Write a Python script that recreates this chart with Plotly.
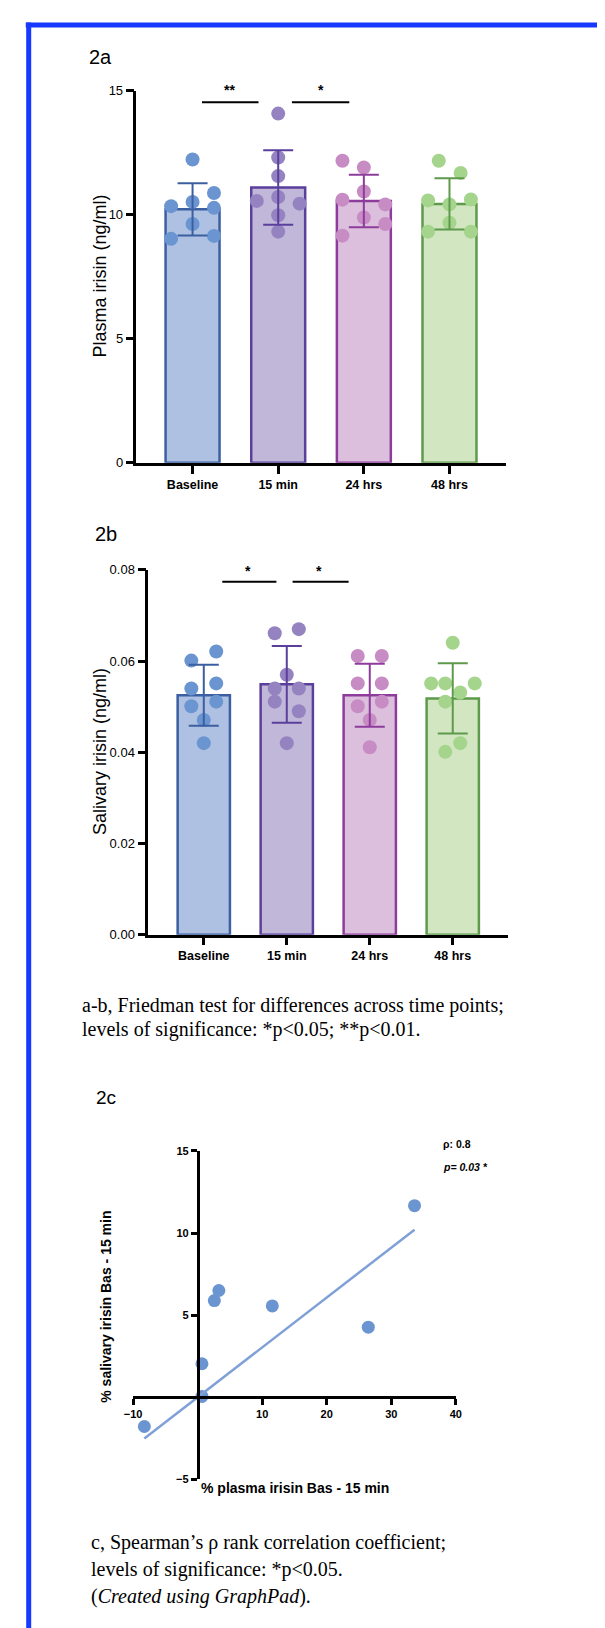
import plotly.graph_objects as go
import numpy as np

# ---------------- data ----------------
categories = ["Baseline", "15 min", "24 hrs", "48 hrs"]

plasma_mean = [10.22, 11.10, 10.56, 10.44]
plasma_sd = [1.05, 1.50, 1.06, 1.03]
plasma_points = [
    [12.23, 10.35, 10.52, 10.88, 10.28, 9.63, 9.03, 9.15],
    [14.08, 12.31, 11.56, 10.72, 10.56, 10.45, 9.98, 9.32],
    [12.18, 11.91, 10.94, 10.61, 10.42, 9.89, 9.63, 9.16],
    [12.18, 11.69, 10.58, 10.62, 10.42, 9.68, 9.32, 9.32],
]
plasma_jitter = [
    [0, -0.25, 0, 0.25, 0.25, 0, -0.25, 0.25],
    [0, 0, 0, 0, -0.25, 0.25, 0, 0],
    [-0.25, 0, 0, -0.25, 0.25, 0, 0.25, -0.25],
    [-0.125, 0.13, -0.25, 0.25, 0, 0, -0.25, 0.25],
]

saliva_mean = [0.0525, 0.0549, 0.0525, 0.0518]
saliva_sd = [0.0067, 0.0084, 0.0069, 0.0077]
saliva_points = [
    [0.0621, 0.0601, 0.0540, 0.0551, 0.0511, 0.0501, 0.0471, 0.0420],
    [0.0661, 0.0670, 0.0570, 0.0540, 0.0540, 0.0511, 0.0490, 0.0420],
    [0.0611, 0.0611, 0.0551, 0.0551, 0.0511, 0.0501, 0.0471, 0.0411],
    [0.0640, 0.0551, 0.0551, 0.0551, 0.0531, 0.0511, 0.0420, 0.0401],
]
saliva_jitter = [
    [0.15, -0.15, -0.15, 0.15, 0.15, -0.15, 0, 0],
    [-0.145, 0.145, 0, -0.145, 0.145, -0.145, 0.145, 0],
    [-0.145, 0.145, -0.145, 0.145, 0.145, -0.145, 0, 0],
    [0, -0.26, -0.09, 0.265, 0.09, -0.09, 0.09, -0.09],
]

corr_x = [33.6, 3.29, 2.59, 11.57, 26.44, 0.67, 0.67, -8.25]   # % plasma irisin Bas - 15 min
corr_y = [11.67, 6.50, 5.89, 5.56, 4.27, 2.04, 0.05, -1.78]     # % salivary irisin Bas - 15 min

plasma_ticks = [0, 5, 10, 15]
saliva_ticks = [0.00, 0.02, 0.04, 0.06, 0.08]
saliva_ticktext = ["0.00", "0.02", "0.04", "0.06", "0.08"]
corr_xticks = [-10, 10, 20, 30, 40]
corr_yticks = [-5, 5, 10, 15]

# ---------------- style ----------------
W, H = 605, 1628
fill_c = ["#afc1e2", "#c0b7d9", "#dbbfdc", "#d2e6c1"]
edge_c = ["#3b5fa0", "#5a3f9c", "#8e3c9c", "#5d9a4b"]
dot_c = ["#6b95d0", "#9483c0", "#c78cc4", "#a5d48d"]
SANS = "Liberation Sans, Arial, sans-serif"
SERIF = "Liberation Serif, Times New Roman, serif"


def px(x):
    return x / W


def py(y):
    return 1 - y / H


fig = go.Figure()


def add_bar_panel(means, sds, points, jitter, xa, ya):
    for i in range(len(categories)):
        fig.add_trace(go.Bar(
            x=[i], y=[means[i]], width=0.63,
            marker=dict(color=fill_c[i], line=dict(color=edge_c[i], width=2.5)),
            xaxis=xa, yaxis=ya, showlegend=False, hoverinfo="skip"))
    for i in range(len(categories)):
        xs = [i + j for j in jitter[i]]
        fig.add_trace(go.Scatter(
            x=xs, y=points[i], mode="markers",
            marker=dict(color=dot_c[i], size=14, line=dict(width=0)),
            xaxis=xa, yaxis=ya, showlegend=False, cliponaxis=False))
    for i in range(len(categories)):
        fig.add_trace(go.Scatter(
            x=[i], y=[means[i]], mode="markers",
            marker=dict(color="rgba(0,0,0,0)", size=1),
            error_y=dict(type="data", array=[sds[i]], color=edge_c[i],
                         thickness=2, width=15),
            xaxis=xa, yaxis=ya, showlegend=False, cliponaxis=False))


add_bar_panel(plasma_mean, plasma_sd, plasma_points, plasma_jitter, "x", "y")
add_bar_panel(saliva_mean, saliva_sd, saliva_points, saliva_jitter, "x2", "y2")

# correlation panel
fig.add_trace(go.Scatter(
    x=corr_x, y=corr_y, mode="markers",
    marker=dict(color="#6b95d0", size=13),
    xaxis="x3", yaxis="y3", showlegend=False, cliponaxis=False))
cx = np.array(corr_x)
cy = np.array(corr_y)
slope = float(np.sum(cx * cy) / np.sum(cx * cx))
lx = [float(cx.min()), float(cx.max())]
fig.add_trace(go.Scatter(
    x=lx, y=[slope * v for v in lx], mode="lines",
    line=dict(color="#80a1d8", width=2.5),
    xaxis="x3", yaxis="y3", showlegend=False, cliponaxis=False))

axis_common = dict(showgrid=False, zeroline=False, showline=True,
                   linecolor="black", linewidth=2.5, ticks="outside",
                   tickcolor="black", tickwidth=2.5, ticklen=8)

d2a_x = [px(122.5), px(501)]
d2a_y = [py(452), py(76.5)]
d2b_x = [px(134.6), px(503)]
d2b_y = [py(928.3), py(560)]
d2c_x = [px(119), px(450)]
d2c_y = [py(1478), py(1146.5)]

xr1 = [-0.655, 3.655]
xr2 = [-0.669, 3.66]
xr3 = [-10, 40]
yr3 = [-5, 15]


def to_paper(v, rng, dom):
    return dom[0] + (v - rng[0]) / (rng[1] - rng[0]) * (dom[1] - dom[0])


x0_pos = to_paper(0, xr3, d2c_x)
y0_pos = to_paper(0, yr3, d2c_y)

cat_font = dict(size=12.5, family=SANS, weight="bold")

fig.update_layout(
    width=W, height=H, margin=dict(l=0, r=0, t=0, b=0),
    paper_bgcolor="white", plot_bgcolor="white", barmode="overlay",
    font=dict(family=SANS, color="black"),
    xaxis=dict(domain=d2a_x, anchor="y", range=xr1,
               tickvals=[0, 1, 2, 3], ticktext=categories,
               tickfont=cat_font, **axis_common),
    yaxis=dict(domain=d2a_y, anchor="x", range=[0, 15], tickvals=plasma_ticks,
               tickfont=dict(size=13), **axis_common),
    xaxis2=dict(domain=d2b_x, anchor="y2", range=xr2,
                tickvals=[0, 1, 2, 3], ticktext=categories,
                tickfont=cat_font, **axis_common),
    yaxis2=dict(domain=d2b_y, anchor="x2", range=[0, 0.08], tickvals=saliva_ticks,
                ticktext=saliva_ticktext, tickfont=dict(size=13), **axis_common),
    xaxis3=dict(domain=d2c_x, anchor="free", position=y0_pos, range=xr3,
                tickvals=corr_xticks, tickfont=dict(size=11, weight="bold"),
                **{**axis_common, "ticklen": 6}),
    yaxis3=dict(domain=d2c_y, anchor="free", position=x0_pos, range=yr3,
                tickvals=corr_yticks, tickfont=dict(size=11, weight="bold"),
                **{**axis_common, "ticklen": 6}),
)

shapes = []
# blue frame (top and left edges)
shapes.append(dict(type="line", xref="paper", yref="paper",
                   x0=px(9), x1=px(W + 5), y0=py(10), y1=py(10),
                   line=dict(color="#1638ff", width=5)))
shapes.append(dict(type="line", xref="paper", yref="paper",
                   x0=px(12), x1=px(12), y0=py(7.5), y1=py(H + 5),
                   line=dict(color="#1638ff", width=5)))

annotations = []


def text_at(x, y, text, size, xanchor="left", family=SANS, angle=0, weight="normal", **kw):
    annotations.append(dict(xref="paper", yref="paper", x=px(x), y=py(y),
                            text=text, showarrow=False, xanchor=xanchor,
                            yanchor="middle", textangle=angle,
                            font=dict(size=size, family=family, color="black",
                                      weight=weight),
                            **kw))


# significance brackets (x in category units, y in data units)
sig_a = [("**", 0.11, 0.77, 0.43), ("*", 1.16, 1.83, 1.50)]
sig_b = [("*", 0.223, 0.875, 0.53), ("*", 1.07, 1.745, 1.39)]
for lab, x0, x1, xt in sig_a:
    shapes.append(dict(type="line", xref="x", yref="y", x0=x0, x1=x1,
                       y0=14.54, y1=14.54, line=dict(color="black", width=2)))
    annotations.append(dict(xref="paper", yref="paper",
                            x=to_paper(xt, xr1, d2a_x), y=to_paper(15.14, [0, 15], d2a_y),
                            text=lab, showarrow=False, xanchor="center", yanchor="middle",
                            yshift=-3, font=dict(size=14, family=SANS, weight="bold")))
for lab, x0, x1, xt in sig_b:
    shapes.append(dict(type="line", xref="x2", yref="y2", x0=x0, x1=x1,
                       y0=0.0774, y1=0.0774, line=dict(color="black", width=2)))
    annotations.append(dict(xref="paper", yref="paper",
                            x=to_paper(xt, xr2, d2b_x), y=to_paper(0.0804, [0, 0.08], d2b_y),
                            text=lab, showarrow=False, xanchor="center", yanchor="middle",
                            yshift=-3, font=dict(size=14, family=SANS, weight="bold")))

text_at(72, 42, "2a", 20)
text_at(78, 524, "2b", 20)
text_at(79, 1093, "2c", 19)
text_at(85, 263, "Plasma irisin (ng/ml)", 18, xanchor="center", angle=-90)
text_at(85, 743, "Salivary irisin (ng/ml)", 18, xanchor="center", angle=-90)
text_at(91, 1304, "% salivary irisin Bas - 15 min", 14, xanchor="center", angle=-90,
        weight="bold")
text_at(187, 1487, "% plasma irisin Bas - 15 min", 14, weight="bold")
text_at(435, 1140, "ρ: 0.8", 10.5, weight="bold")
text_at(435, 1163, "<i>p= 0.03 *</i>", 10.5, weight="bold")

text_at(65, 1000, "a-b, Friedman test for differences across time points;", 20, family=SERIF)
text_at(65, 1024, "levels of significance: *p&lt;0.05; **p&lt;0.01.", 20, family=SERIF)
text_at(74, 1542, "c, Spearman’s ρ rank correlation coefficient;", 20, family=SERIF)
text_at(74, 1569, "levels of significance: *p&lt;0.05.", 20, family=SERIF)
text_at(74, 1596, "(<i>Created using GraphPad</i>).", 20, family=SERIF)

fig.update_layout(shapes=shapes, annotations=annotations)

fig.write_html("out.html")
